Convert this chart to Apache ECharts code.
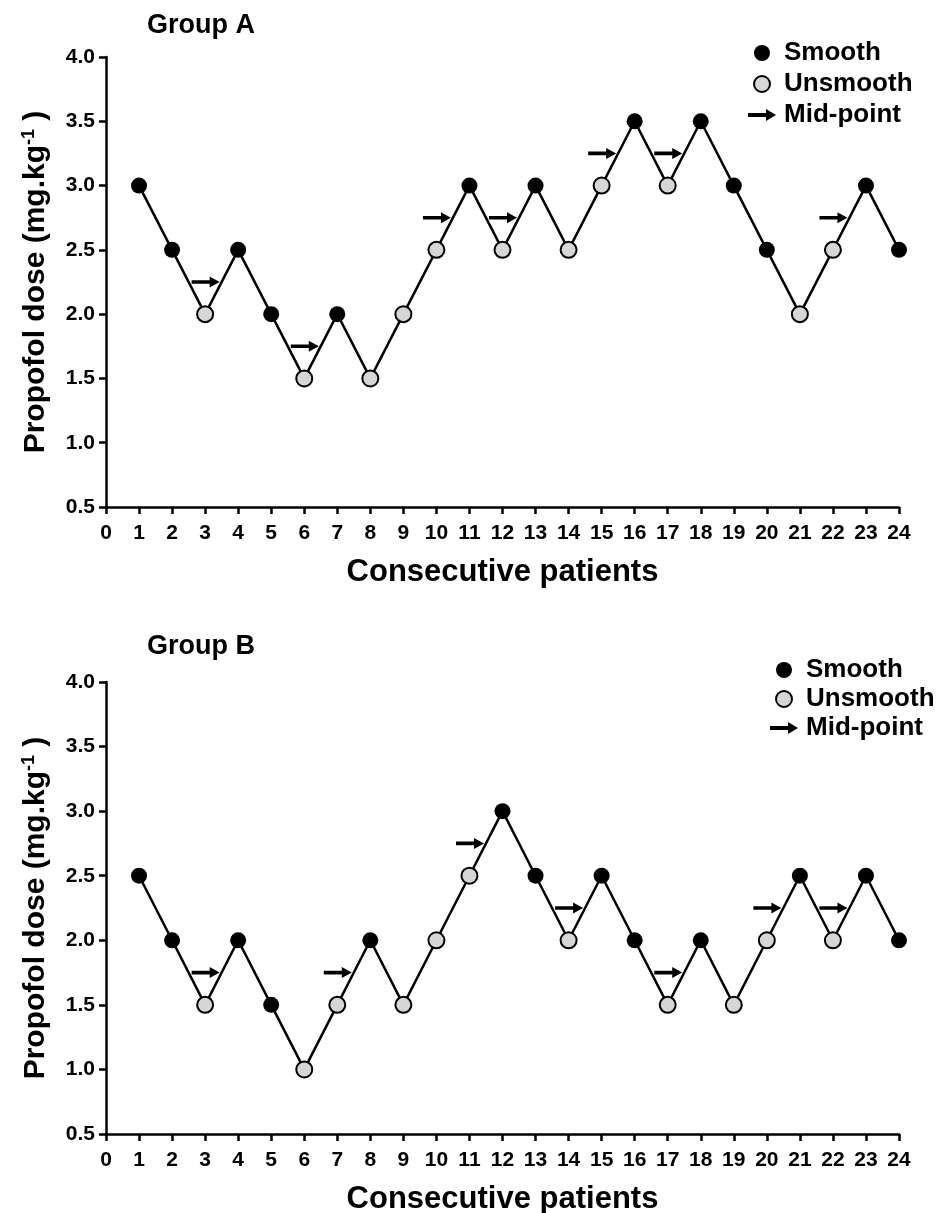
<!DOCTYPE html>
<html>
<head>
<meta charset="utf-8">
<script src="https://cdn.jsdelivr.net/npm/echarts@6/dist/echarts.min.js"></script>
<style>
  html, body { margin: 0; padding: 0; background: #fff; }
  #main { width: 943px; height: 1213px; }
</style>
</head>
<body>
<div id="main"></div>
<script>
// consecutive patients
const patients = [1, 2, 3, 4, 5, 6, 7, 8, 9, 10, 11, 12, 13, 14, 15, 16, 17, 18, 19, 20, 21, 22, 23, 24];

// Group A: propofol dose and outcome (S = smooth, U = unsmooth)
const doseA = [3.0, 2.5, 2.0, 2.5, 2.0, 1.5, 2.0, 1.5, 2.0, 2.5, 3.0, 2.5, 3.0, 2.5, 3.0, 3.5, 3.0, 3.5, 3.0, 2.5, 2.0, 2.5, 3.0, 2.5];
const stateA = ['S', 'S', 'U', 'S', 'S', 'U', 'S', 'U', 'U', 'U', 'S', 'U', 'S', 'U', 'U', 'S', 'U', 'S', 'S', 'S', 'U', 'U', 'S', 'S'];
const midA = [[3.5, 2.25], [6.5, 1.75], [10.5, 2.75], [12.5, 2.75], [15.5, 3.25], [17.5, 3.25], [22.5, 2.75]];

// Group B
const doseB = [2.5, 2.0, 1.5, 2.0, 1.5, 1.0, 1.5, 2.0, 1.5, 2.0, 2.5, 3.0, 2.5, 2.0, 2.5, 2.0, 1.5, 2.0, 1.5, 2.0, 2.5, 2.0, 2.5, 2.0];
const stateB = ['S', 'S', 'U', 'S', 'S', 'U', 'U', 'S', 'U', 'U', 'U', 'S', 'S', 'U', 'S', 'S', 'U', 'S', 'U', 'U', 'S', 'U', 'S', 'S'];
const midB = [[3.5, 1.75], [7.5, 1.75], [11.5, 2.75], [14.5, 2.25], [17.5, 1.75], [20.5, 2.25], [22.5, 2.25]];

const FONT = "'Liberation Sans', Arial, sans-serif";
const ARROW = 'path://M0,4 L18,4 L18,0 L28,6 L18,12 L18,8 L0,8 Z';

function pick(dose, state, s) {
  const out = [];
  patients.forEach((p, i) => { if (state[i] === s) out.push([p, dose[i]]); });
  return out;
}

function groupSeries(dose, state, mids, gi) {
  return [
    {
      type: 'line', xAxisIndex: gi, yAxisIndex: gi, silent: true, z: 2,
      data: patients.map((p, i) => [p, dose[i]]),
      symbol: 'none',
      lineStyle: { color: '#000', width: 2.5 }
    },
    {
      name: 'Smooth', type: 'scatter', xAxisIndex: gi, yAxisIndex: gi, z: 3,
      data: pick(dose, state, 'S'),
      symbolSize: 16,
      itemStyle: { color: '#000', opacity: 1 }
    },
    {
      name: 'Unsmooth', type: 'scatter', xAxisIndex: gi, yAxisIndex: gi, z: 3,
      data: pick(dose, state, 'U'),
      symbolSize: 16,
      itemStyle: { color: '#d6d6d6', borderColor: '#000', borderWidth: 2, opacity: 1 }
    },
    {
      name: 'Mid-point', type: 'scatter', xAxisIndex: gi, yAxisIndex: gi, z: 3,
      data: mids,
      symbol: ARROW,
      symbolSize: [28, 11],
      symbolOffset: [-16, 0],
      itemStyle: { color: '#000', opacity: 1 }
    }
  ];
}

function xAxis(gi) {
  return {
    type: 'value', gridIndex: gi, min: 0, max: 24, interval: 1,
    name: 'Consecutive patients', nameLocation: 'middle', nameGap: 50,
    nameTextStyle: { fontSize: 31, fontWeight: 'bold', color: '#000', fontFamily: FONT },
    axisLine: { onZero: false, lineStyle: { color: '#000', width: 2.5 } },
    axisTick: { length: 7, lineStyle: { color: '#000', width: 2.5 } },
    axisLabel: { margin: 16, fontSize: 21, fontWeight: 'bold', color: '#000', fontFamily: FONT },
    splitLine: { show: false }
  };
}

function yAxis(gi) {
  return {
    type: 'value', gridIndex: gi, min: 0.5, max: 4.0, interval: 0.5,
    name: '{a|Propofol dose (mg.kg}{s|-1}{a| )}', nameLocation: 'middle', nameGap: 54,
    nameTextStyle: {
      color: '#000', fontFamily: FONT,
      rich: {
        a: { fontSize: 30, fontWeight: 'bold', color: '#000', fontFamily: FONT },
        s: { fontSize: 18, fontWeight: 'bold', color: '#000', fontFamily: FONT, verticalAlign: 'top', padding: [0, 0, 14, 0] }
      }
    },
    axisLine: { show: true, lineStyle: { color: '#000', width: 2.5 } },
    axisTick: { show: true, length: 7, lineStyle: { color: '#000', width: 2.5 } },
    axisLabel: {
      margin: 11, fontSize: 21, fontWeight: 'bold', color: '#000', fontFamily: FONT,
      formatter: v => v.toFixed(1)
    },
    splitLine: { show: false }
  };
}

function legend(left, top, gap) {
  return {
    orient: 'vertical', left: left, top: top, itemGap: gap,
    itemWidth: 28, itemHeight: 16, selectedMode: false,
    textStyle: { fontSize: 26, fontWeight: 'bold', color: '#000', fontFamily: FONT, padding: [0, 0, 0, 3] },
    data: [
      { name: 'Smooth', icon: 'circle' },
      { name: 'Unsmooth', icon: 'circle' },
      { name: 'Mid-point', icon: ARROW, itemStyle: { color: '#000' } }
    ]
  };
}

const myChart = echarts.init(document.getElementById('main'));
const option = {
  backgroundColor: '#fff',
  animation: false,
  title: [
    { text: 'Group A', left: 142, top: 7, textStyle: { fontSize: 27, fontWeight: 'bold', color: '#000', fontFamily: FONT } },
    { text: 'Group B', left: 142, top: 628, textStyle: { fontSize: 27, fontWeight: 'bold', color: '#000', fontFamily: FONT } }
  ],
  legend: [legend(743, 35, 5), legend(765, 652, 3)],
  grid: [
    { left: 106, right: 44, top: 57, bottom: 706, outerBoundsMode: 'none' },
    { left: 106, right: 44, top: 682, bottom: 79, outerBoundsMode: 'none' }
  ],
  xAxis: [xAxis(0), xAxis(1)],
  yAxis: [yAxis(0), yAxis(1)],
  series: [].concat(groupSeries(doseA, stateA, midA, 0), groupSeries(doseB, stateB, midB, 1))
};
option && myChart.setOption(option);
</script>
</body>
</html>
